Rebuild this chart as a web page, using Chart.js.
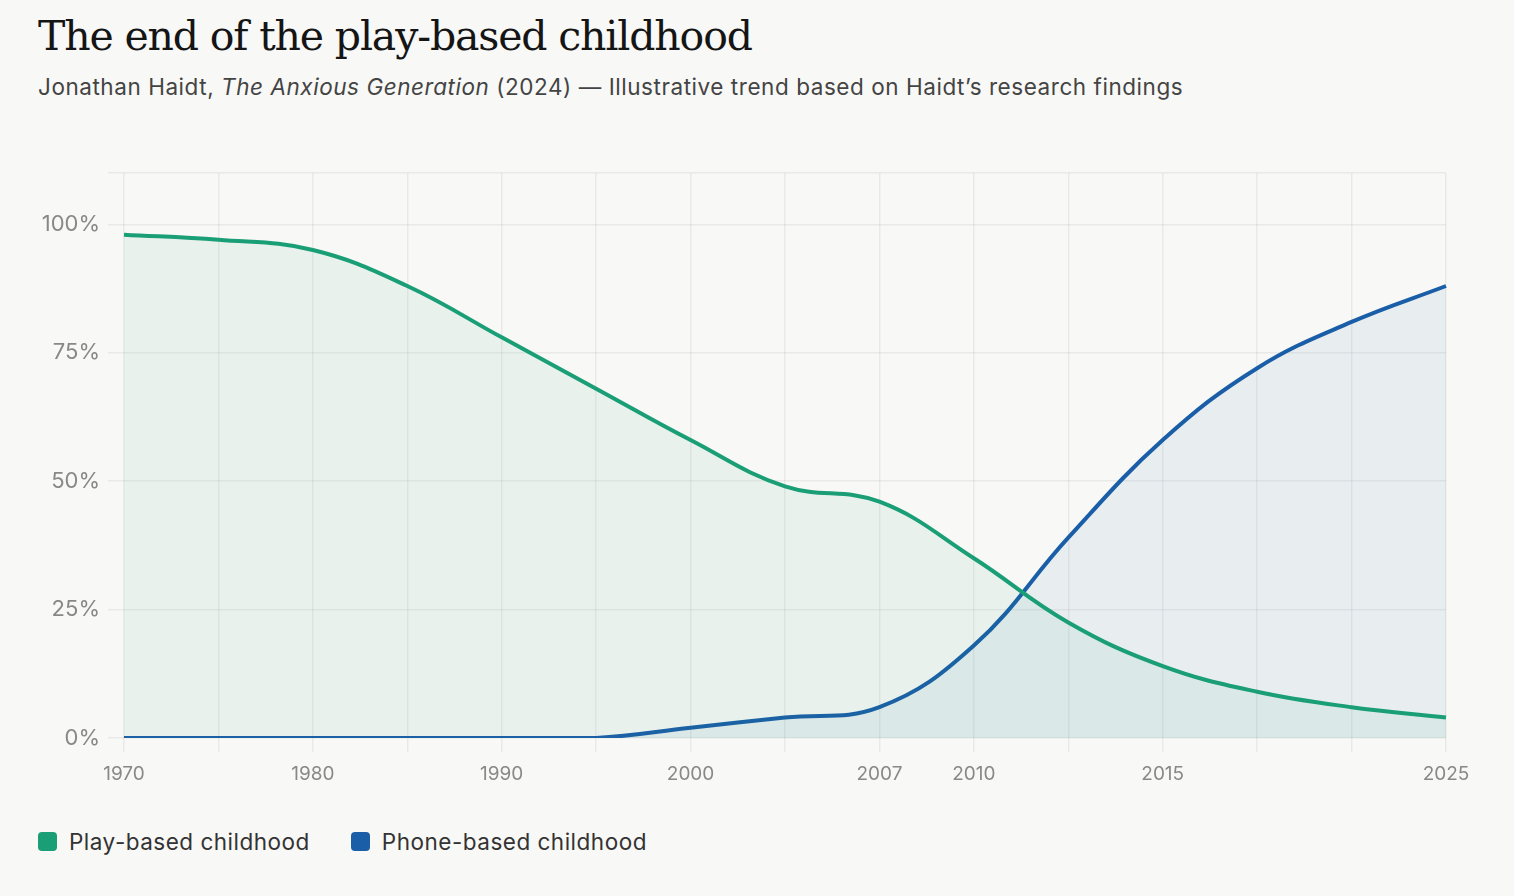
<!DOCTYPE html>
<html>
<head>
<meta charset="utf-8">
<script src="https://cdn.jsdelivr.net/npm/chart.js@4.4.1/dist/chart.umd.min.js"></script>
<style>
  html, body { margin: 0; padding: 0; background: #f8f8f6; }
  body { width: 1514px; height: 896px; position: relative; overflow: hidden; font-family: Inter, "Noto Sans", sans-serif; }
  #title { position: absolute; left: 38px; top: 16px; margin: 0; font-family: "DejaVu Serif", "Liberation Serif", serif; font-weight: normal; font-size: 41px; letter-spacing: -1.15px; line-height: 1; color: #151515; }
  #subtitle { position: absolute; left: 38px; top: 76px; margin: 0; font-size: 22.5px; letter-spacing: 0.55px; line-height: 1; color: #444; }
  #chartBox { position: absolute; left: 0; top: 130px; width: 1514px; height: 670px; }
  #legend { position: absolute; left: 38px; top: 828px; display: flex; font-size: 22.5px; letter-spacing: 0.5px; color: #333; }
  .item { display: flex; align-items: center; margin-right: 41px; }
  .swatch { width: 19px; height: 19px; border-radius: 4px; margin-right: 12px; }
</style>
</head>
<body>
<h1 id="title">The end of the play-based childhood</h1>
<div id="subtitle">Jonathan Haidt, <i>The Anxious Generation</i> (2024) — Illustrative trend based on Haidt’s research findings</div>
<div id="chartBox"><canvas id="childhoodChart"></canvas></div>
<div id="legend"></div>
<script>
// categories on the x axis (every one has a vertical gridline)
const years = ['1970', '1975', '1980', '1985', '1990', '1995', '2000', '2004', '2007', '2010', '2012', '2015', '2018', '2021', '2025'];
// only these years get a tick label
const shownYears = ['1970', '1980', '1990', '2000', '2007', '2010', '2015', '2025'];

const seriesNames = ['Play-based childhood', 'Phone-based childhood'];
const playBased = [98, 97, 95, 88, 78, 68, 58, 49, 46, 35, 22.5, 14, 9, 6, 4];
const phoneBased = [0, 0, 0, 0, 0, 0, 2, 4, 6, 18, 39, 58, 72, 81, 88];

const yTicks = [0, 25, 50, 75, 100];

const green = 'rgb(26, 158, 117)';
const blue = 'rgb(26, 94, 168)';

const legend = document.getElementById('legend');
[green, blue].forEach((color, i) => {
    const item = document.createElement('div');
    item.className = 'item';
    item.innerHTML = `<span class="swatch" style="background:${color}"></span>${seriesNames[i]}`;
    legend.appendChild(item);
});

const ctx = document.getElementById('childhoodChart').getContext('2d');
new Chart(ctx, {
    type: 'line',
    data: {
        labels: years,
        datasets: [
            {
                label: seriesNames[0],
                data: playBased,
                borderColor: green,
                backgroundColor: 'rgba(26, 158, 117, 0.07)',
                borderWidth: 4,
                fill: 'origin',
                tension: 0.4,
                pointRadius: 0
            },
            {
                label: seriesNames[1],
                data: phoneBased,
                borderColor: blue,
                backgroundColor: 'rgba(26, 94, 168, 0.07)',
                borderWidth: 4,
                fill: 'origin',
                tension: 0.4,
                pointRadius: 0
            }
        ]
    },
    options: {
        responsive: true,
        maintainAspectRatio: false,
        animation: false,
        layout: { padding: { left: 0, right: 68, top: 43, bottom: 12 } },
        plugins: {
            legend: { display: false },
            tooltip: { enabled: false }
        },
        scales: {
            x: {
                grid: { color: 'rgba(0, 0, 0, 0.06)', lineWidth: 1.5, tickLength: 14 },
                border: { display: false },
                ticks: {
                    autoSkip: false,
                    maxRotation: 0,
                    padding: 11,
                    color: '#888',
                    font: { family: 'Inter', size: 19 },
                    callback: function(value) {
                        const label = this.getLabelForValue(value);
                        return shownYears.includes(label) ? label : '';
                    }
                },
                afterFit: scale => { scale.height = 50; }
            },
            y: {
                min: 0,
                max: 110,
                grid: { color: 'rgba(0, 0, 0, 0.06)', lineWidth: 1.5, tickLength: 16 },
                border: { display: false },
                afterBuildTicks: scale => {
                    scale.ticks = yTicks.concat([110]).map(v => ({ value: v }));
                },
                ticks: {
                    padding: 8,
                    color: '#888',
                    font: { family: 'Inter', size: 22 },
                    callback: value => yTicks.includes(value) ? value + '%' : ''
                },
                afterFit: scale => { scale.width = 124; }
            }
        }
    }
});
</script>
</body>
</html>
